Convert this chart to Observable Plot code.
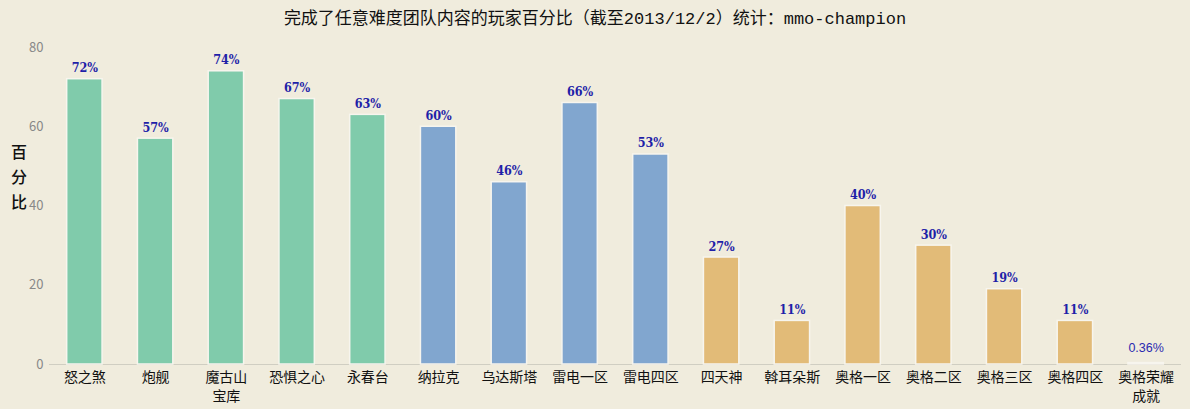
<!DOCTYPE html>
<html><head><meta charset="utf-8">
<script src="https://cdn.jsdelivr.net/npm/d3@7"></script>
<script src="https://cdn.jsdelivr.net/npm/@observablehq/plot@0.6"></script>
<style>
html,body{margin:0;padding:0;background:#f0ecdd;}
#wrap{position:relative;width:1190px;height:409px;overflow:hidden;}
#title{height:38px;line-height:40px;text-align:center;font-size:17px;color:#111;font-family:"Liberation Mono","Noto Sans CJK SC",monospace;}
#ylab{position:absolute;left:10px;top:139px;font-size:16px;line-height:25px;color:#111;font-family:"Noto Sans CJK SC",sans-serif;width:18px;text-align:center;font-weight:500;}
</style></head>
<body><div id="wrap"><div id="title">完成了任意难度团队内容的玩家百分比（截至2013/12/2）统计：mmo-champion</div><div id="ylab">百<br>分<br>比</div><div id="chart"></div></div>
<script>
const categories = ["怒之煞","炮舰","魔古山\n宝库","恐惧之心","永春台","纳拉克","乌达斯塔","雷电一区","雷电四区","四天神","斡耳朵斯","奥格一区","奥格二区","奥格三区","奥格四区","奥格荣耀\n成就"];
const values = [72,57,74,67,63,60,46,66,53,27,11,40,30,19,11,0.36];
const labels = ["72%","57%","74%","67%","63%","60%","46%","66%","53%","27%","11%","40%","30%","19%","11%","0.36%"];
const groups = ["g","g","g","g","g","b","b","b","b","t","t","t","t","t","t","t"];
const yTicks = [0,20,40,60,80];
const data = categories.map((c,i)=>({cat:c,value:values[i],label:labels[i],group:groups[i]}));
const plot = Plot.plot({
  width:1190, height:371,
  marginTop:9, marginBottom:45, marginLeft:49, marginRight:9,
  style:{background:"transparent", fontFamily:"Noto Sans CJK SC, sans-serif"},
  x:{domain:categories, paddingInner:0.5, paddingOuter:0.25, round:false, label:null, tickSize:0},
  y:{domain:[0,80], ticks:yTicks, label:null},
  color:{domain:["g","b","t"], range:["#80cbab","#81a6cf","#e2bb78"]},
  marks:[
    Plot.gridY(yTicks,{stroke:"#cfcdc0", strokeOpacity:1, x1:53, x2:1181}),
    Plot.axisY({ticks:yTicks, tickSize:0, tickPadding:6, fill:"#888", fontSize:13}),
    Plot.axisX({tickSize:0, tickPadding:5, fill:"#111", fontSize:14, lineHeight:1.3}),
    Plot.ruleY([0],{stroke:"#d0cec2"}),
    Plot.barY(data,{x:"cat", y:"value", fill:"group", stroke:"#f7f5ee", strokeWidth:1.5}),
    Plot.text(data.filter(d=>d.value>=1),{x:"cat", y:"value", text:"label", dy:-11, fill:"#1f1fa8", fontSize:12.5, fontWeight:"bold", fontFamily:"DejaVu Serif Condensed, DejaVu Serif, serif"}),
    Plot.text(data.filter(d=>d.value<1),{x:"cat", y:"value", text:"label", dy:-15, fill:"#2a2ab0", fontSize:12.5, fontFamily:"Liberation Sans, Arial, sans-serif"})
  ]
});
document.getElementById("chart").appendChild(plot);
</script></body></html>
